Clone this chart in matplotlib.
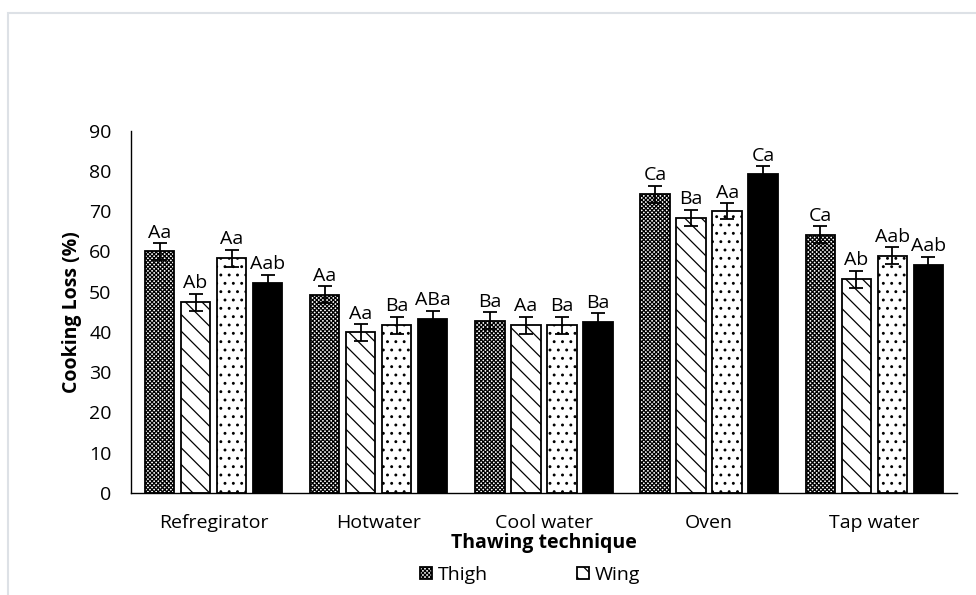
import numpy as np
import matplotlib
matplotlib.use("Agg")
import matplotlib.pyplot as plt
from matplotlib.patches import Rectangle

plt.rcParams['font.family'] = ['Open Sans', 'DejaVu Sans']
plt.rcParams['hatch.linewidth'] = 0.9

# data
techniques = ["Refregirator", "Hotwater", "Cool water", "Oven", "Tap water"]
thigh = [60.0, 49.2, 42.8, 74.2, 64.1]
wing = [47.4, 39.9, 41.7, 68.4, 53.1]
cut3 = [58.3, 41.7, 41.7, 70.0, 58.9]
cut4 = [52.1, 43.2, 42.5, 79.2, 56.6]
err_thigh = [2.1, 2.1, 2.1, 2.1, 2.1]
err_wing = [2.1, 2.1, 2.1, 2.0, 2.1]
err_cut3 = [2.1, 2.1, 2.1, 2.0, 2.1]
err_cut4 = [2.1, 2.1, 2.1, 2.0, 2.1]
lab_thigh = ["Aa", "Aa", "Ba", "Ca", "Ca"]
lab_wing = ["Ab", "Aa", "Aa", "Ba", "Ab"]
lab_cut3 = ["Aa", "Ba", "Ba", "Aa", "Aab"]
lab_cut4 = ["Aab", "ABa", "Ba", "Ca", "Aab"]

series = [
    ("Thigh", thigh, err_thigh, lab_thigh, dict(color="white", hatch="xxxxxxxx")),
    ("Wing", wing, err_wing, lab_wing, dict(color="white", hatch="\\\\")),
    (None, cut3, err_cut3, lab_cut3, dict(color="white", hatch="..")),
    (None, cut4, err_cut4, lab_cut4, dict(color="black")),
]

fs = 14

fig = plt.figure(figsize=(9.76, 5.95), dpi=100)
ax = fig.add_axes([0.1342, 0.1714, 0.8463, 0.609])

x = np.arange(len(techniques))
pitch = 0.218
width = 0.178
handles = []
for i, (name, vals, errs, labs, style) in enumerate(series):
    pos = x + (i - 1.5) * pitch
    bars = ax.bar(pos, vals, width, edgecolor="black", linewidth=1.3, **style)
    ax.errorbar(pos, vals, yerr=errs, fmt="none", ecolor="black",
                elinewidth=1.3, capsize=5, capthick=1.3)
    for p, v, e, t in zip(pos, vals, errs, labs):
        ax.annotate(t, (p, v + e), xytext=(0, 1), textcoords="offset points",
                    ha="center", va="bottom", fontsize=fs)
    if name:
        bars.set_label(name)
        handles.append(bars)

ax.set_xlim(-0.5, 4.5)
ax.set_ylim(0, 90)
ax.set_yticks(range(0, 91, 10))
ax.set_xticks(x)
ax.set_xticklabels(techniques)
ax.tick_params(axis="y", length=0, labelsize=fs, pad=14)
ax.tick_params(axis="x", length=0, labelsize=fs, pad=15)
ax.spines["top"].set_visible(False)
ax.spines["right"].set_visible(False)
ax.spines["left"].set_linewidth(1.0)
ax.spines["bottom"].set_linewidth(1.0)

ax.set_ylabel("Cooking Loss (%)", fontsize=fs, fontweight="bold", labelpad=5)
ax.set_xlabel("Thawing technique", fontsize=fs, fontweight="bold", labelpad=1)

fig.legend(handles=handles, loc="center", bbox_to_anchor=(0.543, 0.034),
           ncol=2, frameon=False, fontsize=fs, handlelength=0.6,
           handleheight=0.6, handletextpad=0.3, columnspacing=4.6)

# light frame of the chart area
fig.add_artist(Rectangle((8 / 976, -0.1), 1.2, 1.1 - 13 / 595,
                         transform=fig.transFigure, fill=False,
                         edgecolor="#dde1e6", linewidth=1.5))

fig.savefig("out.png", dpi=100)
